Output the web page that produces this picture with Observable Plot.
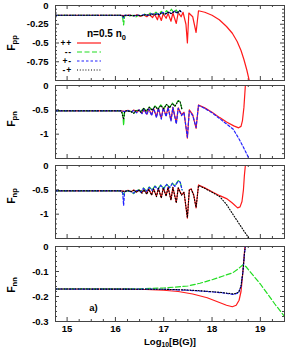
<!DOCTYPE html>
<html><head><meta charset="utf-8">
<script src="https://cdn.jsdelivr.net/npm/d3@7"></script>
<script src="https://cdn.jsdelivr.net/npm/@observablehq/plot@0.6"></script>
<style>
body{margin:0;background:#fff;}
#chart{position:relative;width:300px;height:357px;font-family:"Liberation Sans",Arial,Helvetica,sans-serif;overflow:hidden;}
.lab{position:absolute;font-weight:bold;white-space:nowrap;line-height:1;color:#000;}
.lab sub{font-size:0.72em;vertical-align:-0.25em;}
</style></head><body><div id="chart"></div>
<script>
// ---------- data (x = log10 B, y = F) ----------
const xDomain = [14.76, 19.5];
const xMajorTicks = [15, 16, 17, 18, 19];
const xMinorTicks = [15.25, 15.5, 15.75, 16.25, 16.5, 16.75, 17.25, 17.5, 17.75, 18.25, 18.5, 18.75, 19.25];
const seriesNames = ["++", "--", "+-", "-+"];
const densityLabel = "n=0.5 n";
const panelLabel = "a)";
const panelLabelPos = [15.46, -0.247];

// Fpp
const fppPP = [[14.76,-0.13],[16.1,-0.13],[16.2,-0.135],[16.3,-0.128],[16.38,-0.14],[16.45,-0.125],[16.52,-0.145],[16.58,-0.122],[16.65,-0.15],[16.7,-0.12],[16.77,-0.16],[16.81,-0.115],[16.87,-0.19],[16.9,-0.12],[16.95,-0.2],[16.99,-0.11],[17.05,-0.17],[17.09,-0.105],[17.15,-0.21],[17.19,-0.1],[17.26,-0.24],[17.3,-0.095],[17.36,-0.15],[17.4,-0.09],[17.46,-0.25],[17.49,-0.5],[17.52,-0.1],[17.6,-0.15],[17.67,-0.36],[17.72,-0.07],[17.85,-0.09],[18.0,-0.13],[18.15,-0.19],[18.3,-0.28],[18.42,-0.37],[18.52,-0.48],[18.6,-0.6],[18.66,-0.72],[18.72,-0.86],[18.77,-1.0],[18.8,-1.1]];
const fppMM = [[14.76,-0.13],[16.12,-0.13],[16.15,-0.16],[16.17,-0.26],[16.19,-0.14],[16.22,-0.13],[16.3,-0.14],[16.36,-0.13],[16.42,-0.155],[16.48,-0.13],[16.55,-0.14],[16.6,-0.115],[16.66,-0.135],[16.72,-0.1],[16.78,-0.125],[16.84,-0.09],[16.89,-0.12],[16.95,-0.08],[17.0,-0.11],[17.06,-0.07],[17.1,-0.1],[17.16,-0.05],[17.2,-0.09],[17.26,-0.06],[17.3,-0.1],[17.34,-0.07]];
const fppPM = [[14.76,-0.13],[16.1,-0.13],[16.15,-0.135],[16.17,-0.165],[16.19,-0.132],[16.3,-0.13],[16.38,-0.14],[16.45,-0.128],[16.52,-0.138],[16.6,-0.12],[16.67,-0.133],[16.74,-0.11],[16.8,-0.128],[16.86,-0.1],[16.92,-0.122],[16.98,-0.09],[17.04,-0.115],[17.1,-0.085],[17.16,-0.11],[17.22,-0.075],[17.28,-0.1],[17.33,-0.065],[17.36,-0.085]];
const fppMP = [[14.76,-0.13],[16.1,-0.13],[16.17,-0.145],[16.2,-0.13],[16.35,-0.133],[16.45,-0.13],[16.55,-0.135],[16.63,-0.122],[16.71,-0.13],[16.79,-0.112],[16.87,-0.125],[16.95,-0.1],[17.02,-0.118],[17.09,-0.09],[17.15,-0.108],[17.22,-0.08],[17.28,-0.098],[17.33,-0.07],[17.37,-0.09]];

// Fpn
const fpnPP = [[14.76,-0.52],[16.1,-0.52],[16.2,-0.53],[16.26,-0.51],[16.33,-0.54],[16.38,-0.505],[16.44,-0.55],[16.49,-0.5],[16.55,-0.57],[16.59,-0.49],[16.65,-0.59],[16.69,-0.48],[16.75,-0.6],[16.79,-0.47],[16.85,-0.64],[16.89,-0.47],[16.95,-0.67],[16.99,-0.46],[17.05,-0.62],[17.09,-0.45],[17.15,-0.71],[17.19,-0.45],[17.26,-0.77],[17.3,-0.46],[17.37,-0.6],[17.42,-0.55],[17.49,-1.08],[17.53,-0.5],[17.6,-0.6],[17.67,-0.88],[17.72,-0.4],[17.85,-0.46],[18.0,-0.55],[18.16,-0.66],[18.3,-0.75],[18.45,-0.83],[18.55,-0.87],[18.6,-0.84],[18.63,-0.72],[18.66,-0.45],[18.68,-0.15],[18.69,0],[19.5,0]];
const fpnPM = [[14.76,-0.52],[16.1,-0.52],[16.2,-0.535],[16.26,-0.515],[16.33,-0.545],[16.38,-0.51],[16.44,-0.56],[16.49,-0.5],[16.55,-0.58],[16.59,-0.49],[16.65,-0.6],[16.69,-0.48],[16.75,-0.62],[16.79,-0.47],[16.85,-0.66],[16.89,-0.47],[16.95,-0.69],[16.99,-0.46],[17.05,-0.64],[17.09,-0.45],[17.15,-0.73],[17.19,-0.45],[17.26,-0.79],[17.3,-0.47],[17.37,-0.62],[17.42,-0.56],[17.49,-1.06],[17.53,-0.52],[17.6,-0.62],[17.67,-0.86],[17.72,-0.41],[17.85,-0.47],[18.0,-0.56],[18.16,-0.68],[18.3,-0.79],[18.44,-0.9],[18.56,-1.1],[18.65,-1.27],[18.74,-1.45],[18.8,-1.58]];
const fpnMM = [[14.76,-0.52],[16.12,-0.52],[16.15,-0.56],[16.17,-0.82],[16.19,-0.55],[16.22,-0.52],[16.32,-0.53],[16.38,-0.58],[16.42,-0.52],[16.48,-0.5],[16.53,-0.54],[16.58,-0.46],[16.64,-0.52],[16.7,-0.44],[16.76,-0.5],[16.82,-0.42],[16.88,-0.48],[16.94,-0.4],[17.0,-0.47],[17.06,-0.38],[17.12,-0.45],[17.18,-0.36],[17.23,-0.42],[17.3,-0.31],[17.34,-0.33],[17.38,-0.5]];
const fpnMP = [[14.76,-0.52],[16.12,-0.52],[16.17,-0.7],[16.19,-0.54],[16.22,-0.52],[16.32,-0.535],[16.38,-0.57],[16.42,-0.52],[16.48,-0.51],[16.53,-0.55],[16.58,-0.47],[16.64,-0.53],[16.7,-0.45],[16.76,-0.51],[16.82,-0.43],[16.88,-0.49],[16.94,-0.41],[17.0,-0.48],[17.06,-0.39],[17.12,-0.46],[17.18,-0.37],[17.23,-0.43],[17.3,-0.32],[17.34,-0.34],[17.38,-0.5]];

// Fnp
const fnpPP = [[14.76,-0.52],[16.1,-0.52],[16.2,-0.53],[16.26,-0.51],[16.33,-0.535],[16.38,-0.505],[16.44,-0.545],[16.49,-0.5],[16.55,-0.56],[16.59,-0.49],[16.65,-0.58],[16.69,-0.48],[16.75,-0.6],[16.79,-0.48],[16.85,-0.63],[16.89,-0.47],[16.95,-0.66],[16.99,-0.46],[17.05,-0.62],[17.09,-0.45],[17.15,-0.7],[17.19,-0.45],[17.26,-0.76],[17.3,-0.46],[17.37,-0.6],[17.42,-0.55],[17.49,-1.08],[17.53,-0.5],[17.57,-0.48],[17.62,-0.6],[17.67,-0.87],[17.72,-0.4],[17.85,-0.46],[18.0,-0.54],[18.16,-0.62],[18.3,-0.68],[18.42,-0.77],[18.53,-0.87],[18.58,-0.85],[18.62,-0.74],[18.65,-0.5],[18.67,-0.2],[18.69,0],[19.5,0]];
const fnpMM = [[14.76,-0.52],[16.12,-0.52],[16.17,-0.6],[16.19,-0.54],[16.22,-0.52],[16.32,-0.53],[16.38,-0.58],[16.42,-0.52],[16.48,-0.5],[16.53,-0.54],[16.58,-0.46],[16.64,-0.52],[16.7,-0.44],[16.76,-0.5],[16.82,-0.42],[16.88,-0.48],[16.94,-0.4],[17.0,-0.47],[17.06,-0.38],[17.12,-0.45],[17.18,-0.36],[17.23,-0.42],[17.3,-0.31],[17.34,-0.33],[17.38,-0.5]];
const fnpPM = [[14.76,-0.52],[16.12,-0.52],[16.15,-0.56],[16.17,-0.82],[16.19,-0.55],[16.22,-0.52],[16.32,-0.535],[16.38,-0.57],[16.42,-0.52],[16.48,-0.51],[16.53,-0.55],[16.58,-0.47],[16.64,-0.53],[16.7,-0.45],[16.76,-0.51],[16.82,-0.43],[16.88,-0.49],[16.94,-0.41],[17.0,-0.48],[17.06,-0.39],[17.12,-0.46],[17.18,-0.37],[17.23,-0.43],[17.3,-0.32],[17.34,-0.34],[17.38,-0.5]];
const fnpMP = [[14.76,-0.52],[16.1,-0.52],[16.2,-0.535],[16.26,-0.515],[16.33,-0.54],[16.38,-0.51],[16.44,-0.55],[16.49,-0.5],[16.55,-0.57],[16.59,-0.5],[16.65,-0.59],[16.69,-0.49],[16.75,-0.61],[16.79,-0.48],[16.85,-0.64],[16.89,-0.47],[16.95,-0.67],[16.99,-0.46],[17.05,-0.63],[17.09,-0.45],[17.15,-0.71],[17.19,-0.45],[17.26,-0.77],[17.3,-0.46],[17.37,-0.61],[17.42,-0.55],[17.49,-1.07],[17.53,-0.5],[17.57,-0.49],[17.62,-0.61],[17.67,-0.86],[17.72,-0.41],[17.85,-0.47],[18.0,-0.55],[18.16,-0.64],[18.3,-0.8],[18.43,-1.0],[18.55,-1.18],[18.65,-1.33],[18.74,-1.46],[18.8,-1.56]];

// Fnn
const fnnPP = [[14.76,-0.17],[16.0,-0.17],[16.5,-0.171],[17.0,-0.175],[17.3,-0.18],[17.6,-0.19],[17.9,-0.205],[18.1,-0.22],[18.3,-0.235],[18.42,-0.241],[18.5,-0.235],[18.56,-0.215],[18.6,-0.18],[18.63,-0.12],[18.66,-0.05],[18.68,0],[19.5,0]];
const fnnMM = [[14.76,-0.17],[16.5,-0.169],[17.0,-0.166],[17.5,-0.158],[17.75,-0.147],[18.0,-0.133],[18.2,-0.12],[18.43,-0.105],[18.55,-0.088],[18.64,-0.073],[18.7,-0.08],[19.0,-0.15],[19.3,-0.23],[19.5,-0.28]];
const fnnPM = [[14.76,-0.17],[17.0,-0.171],[17.5,-0.175],[17.9,-0.18],[18.2,-0.185],[18.45,-0.192],[18.55,-0.185],[18.6,-0.16],[18.64,-0.1],[18.67,-0.03],[18.69,0],[19.5,0]];
const fnnMP = [[14.76,-0.17],[17.0,-0.171],[17.5,-0.174],[17.9,-0.179],[18.2,-0.184],[18.45,-0.19],[18.55,-0.183],[18.6,-0.158],[18.64,-0.1],[18.67,-0.03],[18.69,0],[19.5,0]];

// ---------- styles ----------
const W = 300, ML = 55, MR = 16;
const FRAME = "#444";
const styles = [
  {stroke: "#ff1a1a", strokeWidth: 1.2},
  {stroke: "#22dd22", strokeWidth: 1.2, strokeDasharray: "5,2.5"},
  {stroke: "#2020ff", strokeWidth: 1.2, strokeDasharray: "2.5,2"},
  {stroke: "#000", strokeWidth: 1.1, strokeDasharray: "1,1.8"}
];
const font = '"Liberation Sans", Arial, Helvetica, sans-serif';

const panels = [
  {name: "pp", data: [fppPP, fppMM, fppPM, fppMP], top: 5, H: 75, yDomain: [-1, 0],
   yLabels: [0, -0.25, -0.5, -0.75], yMajor: [0, -0.25, -0.5, -0.75, -1],
   yMinor: [-0.05,-0.1,-0.15,-0.2,-0.3,-0.35,-0.4,-0.45,-0.55,-0.6,-0.65,-0.7,-0.8,-0.85,-0.9,-0.95], labelY: 43},
  {name: "pn", data: [fpnPP, fpnMM, fpnPM, fpnMP], top: 84.5, H: 73, yDomain: [-1.5, 0],
   yLabels: [0, -0.5, -1], yMajor: [0, -0.5, -1, -1.5],
   yMinor: [-0.1,-0.2,-0.3,-0.4,-0.6,-0.7,-0.8,-0.9,-1.1,-1.2,-1.3,-1.4], labelY: 119},
  {name: "np", data: [fnpPP, fnpMM, fnpPM, fnpMP], top: 164.5, H: 73, yDomain: [-1.5, 0],
   yLabels: [0, -0.5, -1], yMajor: [0, -0.5, -1, -1.5],
   yMinor: [-0.1,-0.2,-0.3,-0.4,-0.6,-0.7,-0.8,-0.9,-1.1,-1.2,-1.3,-1.4], labelY: 196},
  {name: "nn", data: [fnnPP, fnnMM, fnnPM, fnnMP], top: 246, H: 75, yDomain: [-0.3, 0],
   yLabels: [0, -0.1, -0.2, -0.3], yMajor: [0, -0.1, -0.2, -0.3],
   yMinor: [-0.02,-0.04,-0.06,-0.08,-0.12,-0.14,-0.16,-0.18,-0.22,-0.24,-0.26,-0.28], labelY: 285, last: true}
];

const chart = document.getElementById("chart");
const fw = W - ML - MR;
const MT = 12;

panels.forEach(p => {
  const mb = p.last ? 36 : 12;
  const marks = [
    Plot.tickY(p.yMinor, {stroke: FRAME, insetRight: fw - 2}),
    Plot.tickY(p.yMinor, {stroke: FRAME, insetLeft: fw - 2}),
    Plot.tickY(p.yMajor, {stroke: FRAME, insetRight: fw - 4}),
    Plot.tickY(p.yMajor, {stroke: FRAME, insetLeft: fw - 4}),
    Plot.tickX(xMinorTicks, {stroke: FRAME, insetBottom: p.H - 2}),
    Plot.tickX(xMinorTicks, {stroke: FRAME, insetTop: p.H - 2}),
    Plot.tickX(xMajorTicks, {stroke: FRAME, insetBottom: p.H - 4}),
    Plot.tickX(xMajorTicks, {stroke: FRAME, insetTop: p.H - 4}),
    Plot.axisY(p.yLabels, {tickSize: 0, tickPadding: 7, tickFormat: d => String(d), fontSize: 9.5, fontWeight: "bold", label: null, fill: "#000"}),
    ...p.data.map((d, i) => Plot.line(d, {x: v => v[0], y: v => v[1], clip: true, ...styles[i]})),
    Plot.frame({stroke: FRAME})
  ];
  if (p.last) {
    marks.push(Plot.axisX(xMajorTicks, {tickSize: 0, tickPadding: 4, tickFormat: d => String(d), fontSize: 9.5, fontWeight: "bold", label: null, fill: "#000"}));
    marks.push(Plot.text([panelLabel], {x: () => panelLabelPos[0], y: () => panelLabelPos[1], textAnchor: "start", fontSize: 9.5, fontWeight: "bold"}));
  }
  const svg = Plot.plot({
    width: W, height: MT + p.H + mb,
    marginLeft: ML, marginRight: MR, marginTop: MT, marginBottom: mb,
    style: {background: "transparent", overflow: "visible", fontFamily: font, position: "absolute", left: "0px", top: (p.top - MT) + "px", color: "#000"},
    x: {domain: xDomain, axis: null},
    y: {domain: p.yDomain, axis: null},
    marks
  });
  chart.appendChild(svg);

  const lab = document.createElement("div");
  lab.className = "lab";
  lab.style.fontSize = "10.5px";
  lab.style.left = "12px";
  lab.style.top = p.labelY + "px";
  lab.style.transform = "translate(-50%,-50%) rotate(-90deg)";
  lab.innerHTML = "F<sub>" + p.name + "</sub>";
  chart.appendChild(lab);
});

// x label
const xl = document.createElement("div");
xl.className = "lab";
xl.style.fontSize = "9.5px";
xl.style.left = "170px";
xl.style.top = "343px";
xl.style.transform = "translate(-50%,-50%)";
xl.innerHTML = "Log<sub>10</sub>[B(G)]";
chart.appendChild(xl);

// legend (inside top panel)
const NS = "http://www.w3.org/2000/svg";
const lg = document.createElementNS(NS, "svg");
lg.setAttribute("width", W); lg.setAttribute("height", 90);
lg.style.position = "absolute"; lg.style.left = "0px"; lg.style.top = "0px"; lg.style.overflow = "visible";
lg.style.fontFamily = font;
const title = document.createElementNS(NS, "text");
title.setAttribute("x", 87); title.setAttribute("y", 37);
title.setAttribute("font-size", 10); title.setAttribute("font-weight", "bold");
title.textContent = densityLabel;
const sub0 = document.createElementNS(NS, "tspan");
sub0.setAttribute("dy", 3); sub0.setAttribute("font-size", 7.5); sub0.textContent = "0";
title.appendChild(sub0);
lg.appendChild(title);
seriesNames.forEach((nm, i) => {
  const y = 43 + i * 9;
  const t = document.createElementNS(NS, "text");
  t.setAttribute("x", 72); t.setAttribute("y", y + 3.2);
  t.setAttribute("text-anchor", "end");
  t.setAttribute("font-size", 8.5); t.setAttribute("font-weight", "bold");
  t.setAttribute("letter-spacing", "0.8");
  t.textContent = nm;
  lg.appendChild(t);
  const l = document.createElementNS(NS, "line");
  l.setAttribute("x1", 77); l.setAttribute("x2", 101);
  l.setAttribute("y1", y); l.setAttribute("y2", y);
  l.setAttribute("stroke", styles[i].stroke);
  l.setAttribute("stroke-width", styles[i].strokeWidth);
  if (styles[i].strokeDasharray) l.setAttribute("stroke-dasharray", styles[i].strokeDasharray);
  lg.appendChild(l);
});
chart.appendChild(lg);
</script></body></html>
